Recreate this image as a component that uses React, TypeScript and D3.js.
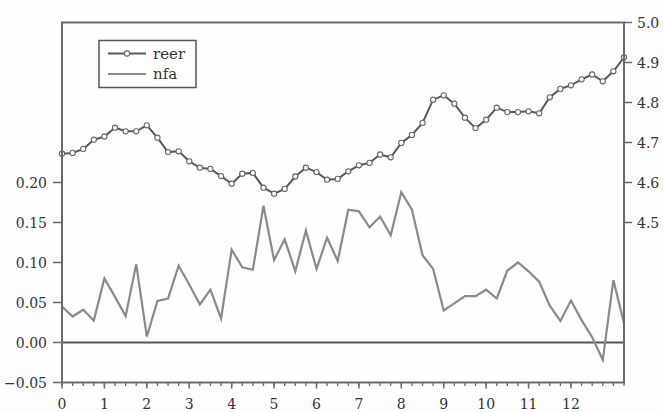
import React from "react";
import * as d3 from "d3";

const reer: number[] = [
  4.672, 4.674, 4.684, 4.707, 4.715, 4.737, 4.728, 4.728, 4.743, 4.712,
  4.676, 4.678, 4.653, 4.637, 4.634, 4.616, 4.597, 4.622, 4.624, 4.587,
  4.572, 4.584, 4.615, 4.637, 4.626, 4.607, 4.609, 4.628, 4.643, 4.649,
  4.670, 4.663, 4.699, 4.719, 4.749, 4.807, 4.818, 4.797, 4.762, 4.736,
  4.757, 4.787, 4.776, 4.776, 4.778, 4.773, 4.813, 4.834, 4.843, 4.858,
  4.870, 4.853, 4.878, 4.913,
];

const nfa: number[] = [
  0.045, 0.0325, 0.041, 0.0275, 0.080, 0.057, 0.033, 0.098, 0.0075, 0.052,
  0.055, 0.096, 0.0725, 0.0475, 0.066, 0.030, 0.116, 0.094, 0.091, 0.171,
  0.103, 0.129, 0.089, 0.140, 0.092, 0.131, 0.102, 0.166, 0.164, 0.144,
  0.1575, 0.134, 0.188, 0.166, 0.109, 0.092, 0.040, 0.049, 0.058, 0.058,
  0.066, 0.055, 0.090, 0.100, 0.089, 0.076, 0.046, 0.027, 0.0525, 0.028,
  0.0066, -0.0216, 0.078, 0.024,
];

const leftTicks: number[] = [-0.05, 0.0, 0.05, 0.1, 0.15, 0.2];
const rightTicks: number[] = [4.5, 4.6, 4.7, 4.8, 4.9, 5.0];
const xMajorTicks: number[] = [0, 1, 2, 3, 4, 5, 6, 7, 8, 9, 10, 11, 12];
const seriesNames: string[] = ["reer", "nfa"];

const W = 663;
const H = 412;
const L = 62;
const R = 624;
const T = 22.5;
const B = 382.5;
const FONT = "'DejaVu Serif', 'Liberation Serif', serif";

export default function App() {
  const step = 0.25;
  const xs = reer.map((_, i) => i * step);
  const x = d3.scaleLinear().domain([0, (reer.length - 1) * step]).range([L, R]);
  const yL = d3.scaleLinear().domain([-0.05, 0.4]).range([B, T]);
  const yR = d3.scaleLinear().domain([4.1, 5.0]).range([B, T]);

  const reerLine = d3.line<number>().x((_, i) => x(xs[i])).y((d) => yR(d))(reer) || "";
  const nfaLine = d3.line<number>().x((_, i) => x(xs[i])).y((d) => yL(d))(nfa) || "";

  const minorTicks = d3.range(0, (reer.length - 1) * step + 0.001, step);
  const axisColor = "#6a6a6a";
  const textColor = "#333";
  const ts: React.CSSProperties = { fontFamily: FONT };

  return (
    <svg
      width={W}
      height={H}
      style={{ position: "absolute", left: 0, top: 0, background: "#fdfdfd", fontFamily: FONT }}
    >
      <line x1={L} x2={R} y1={yL(0)} y2={yL(0)} stroke="#555" strokeWidth={2} />

      <path d={nfaLine} fill="none" stroke="#8a8a8a" strokeWidth={2.2} strokeLinejoin="miter" />

      <path d={reerLine} fill="none" stroke="#585858" strokeWidth={2} />
      {reer.map((d, i) => (
        <circle key={i} cx={x(xs[i])} cy={yR(d)} r={2.6} fill="#fff" stroke="#666" strokeWidth={1.1} />
      ))}

      <rect x={L} y={T} width={R - L} height={B - T} fill="none" stroke={axisColor} strokeWidth={2} />

      {leftTicks.map((t) => (
        <g key={"l" + t}>
          <line x1={L - 9} x2={L} y1={yL(t)} y2={yL(t)} stroke={axisColor} strokeWidth={1.5} />
          <text x={L - 15} y={yL(t)} dy="0.36em" textAnchor="end" fontSize={14} fill={textColor} style={ts}>
            {d3.format(".2f")(t)}
          </text>
        </g>
      ))}

      {rightTicks.map((t) => (
        <g key={"r" + t}>
          <line x1={R} x2={R + 8} y1={yR(t)} y2={yR(t)} stroke={axisColor} strokeWidth={1.5} />
          <text x={R + 13} y={yR(t)} dy="0.36em" textAnchor="start" fontSize={14} fill={textColor} style={ts}>
            {d3.format(".1f")(t)}
          </text>
        </g>
      ))}

      {minorTicks.map((t, i) => (
        <line key={"m" + i} x1={x(t)} x2={x(t)} y1={B} y2={B + 3.5} stroke={axisColor} strokeWidth={1.3} />
      ))}
      {xMajorTicks.map((t) => (
        <g key={"x" + t}>
          <line x1={x(t)} x2={x(t)} y1={B} y2={B + 6} stroke={axisColor} strokeWidth={1.5} />
          <text x={x(t)} y={409} textAnchor="middle" fontSize={14} fill={textColor} style={ts}>
            {t}
          </text>
        </g>
      ))}

      <rect x={99} y={40.5} width={97} height={47} fill="#fff" stroke="#555" strokeWidth={1.5} />
      <line x1={108} x2={146} y1={53.5} y2={53.5} stroke="#585858" strokeWidth={2} />
      <circle cx={127} cy={53.5} r={2.6} fill="#fff" stroke="#666" strokeWidth={1.1} />
      <text x={153} y={53.5} dy="0.35em" fontSize={15} fill={textColor} style={ts}>{seriesNames[0]}</text>
      <line x1={108} x2={146} y1={74} y2={74} stroke="#8a8a8a" strokeWidth={2.2} />
      <text x={153} y={74} dy="0.32em" fontSize={15} fill={textColor} style={ts}>{seriesNames[1]}</text>
    </svg>
  );
}
